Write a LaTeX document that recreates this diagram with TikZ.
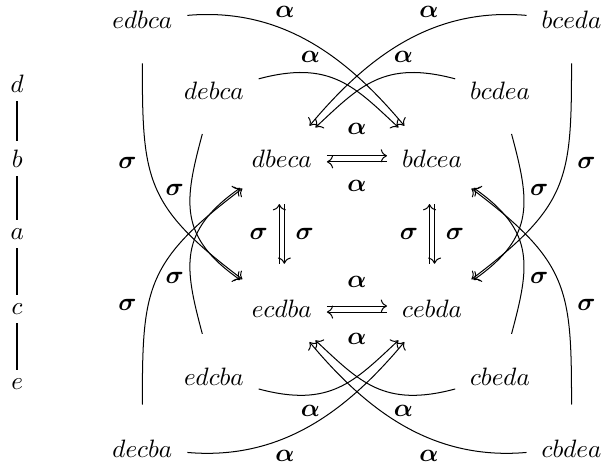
\documentclass[tikz,border=0pt]{standalone}
\usepackage{amsmath}
\usepackage{tikz}
\usetikzlibrary{arrows.meta}
\newcommand{\alab}{$\boldsymbol{\alpha}$}
\newcommand{\slab}{$\boldsymbol{\sigma}$}

\begin{document}
\begin{tikzpicture}[>={Computer Modern Rightarrow},
    amove/.style={->, shorten <=2.5pt, shorten >=8pt},
    smove/.style={->, shorten <=10.5pt, shorten >=8pt, looseness=1.3},
    hpair/.style={->, shorten <=2.5pt, shorten >=2.5pt},
    vpair/.style={->, shorten <=11pt, shorten >=11pt},
    chain/.style={thick},
  ]
    \useasboundingbox (-4.99,-3.27) rectangle (3.44,3.27);
    % the poset d - b - a - c - e
    \node (d) at (-4.75, 2.1) {$d$};
    \node (b) at (-4.75, 1.05) {$b$};
    \node (a) at (-4.75, 0) {$a$};
    \node (c) at (-4.75,-1.05) {$c$};
    \node (e) at (-4.75,-2.1) {$e$};
    \draw[chain] (d) -- (b) -- (a) -- (c) -- (e);

    % linear extensions
    \node (edbca) at (-3, 3) {$edbca$};
    \node (bceda) at ( 3, 3) {$bceda$};
    \node (debca) at (-2, 2) {$debca$};
    \node (bcdea) at ( 2, 2) {$bcdea$};
    \node (dbeca) at (-1.05, 1.05) {$dbeca$};
    \node (bdcea) at ( 1.05, 1.05) {$bdcea$};
    \node (ecdba) at (-1.05,-1.05) {$ecdba$};
    \node (cebda) at ( 1.05,-1.05) {$cebda$};
    \node (edcba) at (-2,-2) {$edcba$};
    \node (cbeda) at ( 2,-2) {$cbeda$};
    \node (decba) at (-3,-3) {$decba$};
    \node (cbdea) at ( 3,-3) {$cbdea$};

    % inner square
    \draw[hpair] ([yshift=1.2pt]dbeca.east) -- node[above=5pt] {\alab} ([yshift=1.2pt]bdcea.west);
    \draw[hpair] ([yshift=-1.2pt]bdcea.west) -- node[below=4pt] {\alab} ([yshift=-1.2pt]dbeca.east);
    \draw[hpair] ([yshift=1.2pt]ecdba.east) -- node[above=4pt] {\alab} ([yshift=1.2pt]cebda.west);
    \draw[hpair] ([yshift=-1.2pt]cebda.west) -- node[below=5pt] {\alab} ([yshift=-1.2pt]ecdba.east);
    \draw[vpair] ([xshift=-1pt]ecdba.north) -- node[left=1pt] {\slab} ([xshift=-1pt]dbeca.south);
    \draw[vpair] ([xshift=1pt]dbeca.south) -- node[right=1pt] {\slab} ([xshift=1pt]ecdba.north);
    \draw[vpair] ([xshift=-1pt]cebda.north) -- node[left=1pt] {\slab} ([xshift=-1pt]bdcea.south);
    \draw[vpair] ([xshift=1pt]bdcea.south) -- node[right=1pt] {\slab} ([xshift=1pt]cebda.north);

    % alpha, top and bottom
    \draw[amove] (edbca) to[out=5, in=130] node[pos=0.38, above=2pt] {\alab} (bdcea);
    \draw[amove] (debca) to[out=15, in=137, looseness=1.2] node[pos=0.3, above=1pt] {\alab} (bdcea);
    \draw[amove] (bceda) to[out=175, in=50] node[pos=0.38, above=2pt] {\alab} (dbeca);
    \draw[amove] (bcdea) to[out=165, in=43, looseness=1.2] node[pos=0.3, above=1pt] {\alab} (dbeca);
    \draw[amove] (decba) to[out=-5, in=-130] node[pos=0.38, below=2pt] {\alab} (cebda);
    \draw[amove] (edcba) to[out=-15, in=-137, looseness=1.2] node[pos=0.3, below=1pt] {\alab} (cebda);
    \draw[amove] (cbdea) to[out=-175, in=-50] node[pos=0.38, below=2pt] {\alab} (ecdba);
    \draw[amove] (cbeda) to[out=-165, in=-43, looseness=1.2] node[pos=0.3, below=1pt] {\alab} (ecdba);

    % sigma, left and right
    \draw[smove] (edbca) to[out=-90, in=143] node[pos=0.4, left=2pt] {\slab} (ecdba);
    \draw[smove] (debca) to[out=-105, in=145] node[pos=0.36, left=0pt] {\slab} (ecdba);
    \draw[smove] (decba) to[out=90, in=-143] node[pos=0.4, left=2pt] {\slab} (dbeca);
    \draw[smove] (edcba) to[out=105, in=-145] node[pos=0.36, left=0pt] {\slab} (dbeca);
    \draw[smove] (bceda) to[out=-90, in=37] node[pos=0.4, right=2pt] {\slab} (cebda);
    \draw[smove] (bcdea) to[out=-75, in=35] node[pos=0.36, right=0pt] {\slab} (cebda);
    \draw[smove] (cbdea) to[out=90, in=-37] node[pos=0.4, right=2pt] {\slab} (bdcea);
    \draw[smove] (cbeda) to[out=75, in=-35] node[pos=0.36, right=0pt] {\slab} (bdcea);
  \end{tikzpicture}
\end{document}
